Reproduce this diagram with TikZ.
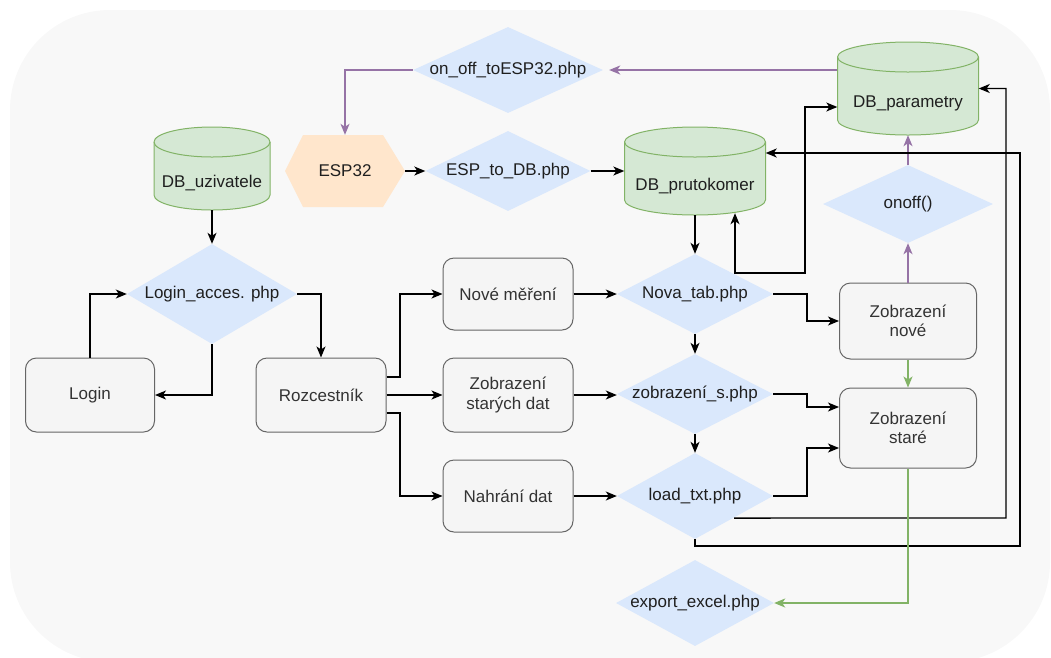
\documentclass[tikz,border=0pt]{standalone}
\usepackage{fontspec}
\setmainfont{Liberation Sans}
\usetikzlibrary{shapes.geometric,arrows.meta,calc}
\definecolor{bgc}{HTML}{F8F8F8}
\definecolor{dfill}{HTML}{DAE8FC}
\definecolor{cfill}{HTML}{D5E8D4}
\definecolor{cstroke}{HTML}{82B366}
\definecolor{hfill}{HTML}{FFE6CC}
\definecolor{bfill}{HTML}{F5F5F5}
\definecolor{bstroke}{HTML}{666666}
\definecolor{btext}{HTML}{333333}
\definecolor{dtext}{HTML}{1F1F1F}
\definecolor{purp}{HTML}{9673A6}
\definecolor{grn}{HTML}{82B366}
\newcommand\figfont{\fontsize{17}{19.5}\selectfont}
\newcommand\dbcyl[6]{%
  \pgfmathsetmacro\cyL{#2-#4/2}\pgfmathsetmacro\cyR{#2+#4/2}%
  \pgfmathsetmacro\cyT{#3-#5/2}\pgfmathsetmacro\cyB{#3+#5/2}%
  \pgfmathsetmacro\cyrx{#4/2}%
  \filldraw[cylsty] (\cyL,\cyT+15) -- (\cyL,\cyB-15)
    arc[start angle=180,end angle=360,x radius=\cyrx pt,y radius=15pt]
    -- (\cyR,\cyT+15)
    arc[start angle=0,end angle=180,x radius=\cyrx pt,y radius=15pt] -- cycle;
  \draw[cylsty,fill=none] (\cyL,\cyT+15)
    arc[start angle=180,end angle=360,x radius=\cyrx pt,y radius=15pt];
  \node[plain, minimum width=#4pt, minimum height=#5pt] (#1) at (#2,#3) {};
  \node[plain, text=dtext] (#1-t) at (#2,#3+15) {#6};
}
\tikzset{
  plain/.style={rectangle, inner sep=0pt, font=\figfont},
  cylsty/.style={fill=cfill, draw=cstroke, line width=1pt},
  diam/.style={diamond, fill=dfill, draw=none, inner sep=0pt, text=dtext, font=\figfont},
  box/.style={rectangle, rounded corners=11pt, fill=bfill, draw=bstroke, line width=1pt,
    text=btext, align=center, font=\figfont, minimum width=130pt, minimum height=74pt, inner sep=0pt},
  ed/.style={line width=1.3pt, -{Stealth[length=11pt,width=9pt,inset=3pt]}},
  edp/.style={ed, draw=purp, color=purp},
  edg/.style={ed, draw=grn, color=grn},
}
\begin{document}
\begin{tikzpicture}[x=1pt,y=-1pt]
\useasboundingbox (0,0) rectangle (1051,657);
\fill[bgc, rounded corners=100pt] (10,10) rectangle (1050,662);

% cylinders
\dbcyl{dbu}{212}{168.5}{116}{83}{DB\_uzivatele}
\dbcyl{dbp}{695}{171}{141}{88}{DB\_prutokomer}
\dbcyl{dbpar}{908}{88.5}{141}{93}{DB\_parametry}

% hexagon
\fill[hfill] (285,171) -- (303,135) -- (383,135) -- (405,171) -- (383,207) -- (303,207) -- cycle;
\node[plain, text=dtext, minimum width=120pt, minimum height=72pt] (esp) at (345,171) {ESP32};

% diamonds
\node[diam, minimum width=190pt, minimum height=86pt] (onESP) at (508,70) {\makebox[0pt]{on\_off\_toESP32.php}};
\node[diam, minimum width=165pt, minimum height=80pt] (esptodb) at (508,171) {\makebox[0pt]{ESP\_to\_DB.php}};
\node[diam, minimum width=170pt, minimum height=100pt] (login) at (212,294) {\makebox[0pt]{Login\_acces. php}};
\node[diam, minimum width=156pt, minimum height=80pt] (nova) at (695,294) {\makebox[0pt]{Nova\_tab.php}};
\node[diam, minimum width=156pt, minimum height=80pt] (zsphp) at (695,394) {\makebox[0pt]{zobrazení\_s.php}};
\node[diam, minimum width=156pt, minimum height=86pt] (load) at (695,496) {\makebox[0pt]{load\_txt.php}};
\node[diam, minimum width=158pt, minimum height=86pt] (export) at (695,603) {\makebox[0pt]{export\_excel.php}};
\node[diam, minimum width=170pt, minimum height=78pt] (onoff) at (908,204) {\makebox[0pt]{onoff()}};

% boxes
\node[box, minimum width=129pt] (loginbox) at (90,395) {Login};
\node[box] (rozc) at (321,395) {Rozcestník};
\node[box, minimum height=72pt] (novem) at (508,294) {Nové měření};
\node[box] (zsd) at (508,395) {Zobrazení\\starých dat};
\node[box, minimum height=72pt] (nahr) at (508,496) {Nahrání dat};
\node[box, minimum width=137pt, minimum height=76pt] (znove) at (908,321) {Zobrazení\\nové};
\node[box, minimum width=137pt, minimum height=80pt] (zstare) at (908,428) {Zobrazení\\staré};

% purple connectors
\draw[edp] (dbpar.west |- onESP.east) -- ([xshift=6pt]onESP.east);
\draw[edp] (onESP.west) -| (esp.north);
\draw[edp] (znove.north) -- (onoff.south);
\draw[edp] (onoff.north) -- (dbpar.south);

% black connectors
\draw[ed] (esp.east) -- (esptodb.west);
\draw[ed] (esptodb.east) -- (dbp.west);
\draw[ed] (dbp.south) -- (nova.north);
\draw[ed, {Stealth[length=11pt,width=9pt,inset=3pt]}-{Stealth[length=11pt,width=9pt,inset=3pt]}]
  ([xshift=40pt,yshift=2pt]dbp.south) |- (805,273) |- ([yshift=-18.5pt]dbpar.west);
\draw[ed] (dbu.south) -- (login.north);
\draw[ed] (login.south) |- (loginbox.east);
\draw[ed] (loginbox.north) |- (login.west);
\draw[ed] (login.east) -| (rozc.north);
\draw[ed] ([yshift=18pt]rozc.east) -- (400,377) |- (novem.west);
\draw[ed] (rozc.east) -- (zsd.west);
\draw[ed] ([yshift=-18pt]rozc.east) -- (400,413) |- (nahr.west);
\draw[ed] (novem.east) -- (nova.west);
\draw[ed] (zsd.east) -- (zsd.east -| zsphp.west);
\draw[ed] (nahr.east) -- (load.west);
\draw[ed] (nova.south) -- (zsphp.north);
\draw[ed] (zsphp.south) -- (load.north);
\draw[ed] (nova.east) -- (807,294) |- (znove.west);
\draw[ed] (zsphp.east) -- (807,394) |- ([yshift=21pt]zstare.west);
\draw[ed] (load.east) -- (807,496) |- ([yshift=-20pt]zstare.west);
\draw[ed] ([yshift=-0.5pt]load.south east) -- (1006,518) |- (dbpar.east);
\draw[ed] (load.south) |- (1020,546) |- ([yshift=18pt]dbp.east);

% green connectors
\draw[edg] (znove.south) -- (zstare.north);
\draw[edg] (zstare.south) |- (export.east);
\end{tikzpicture}
\end{document}
